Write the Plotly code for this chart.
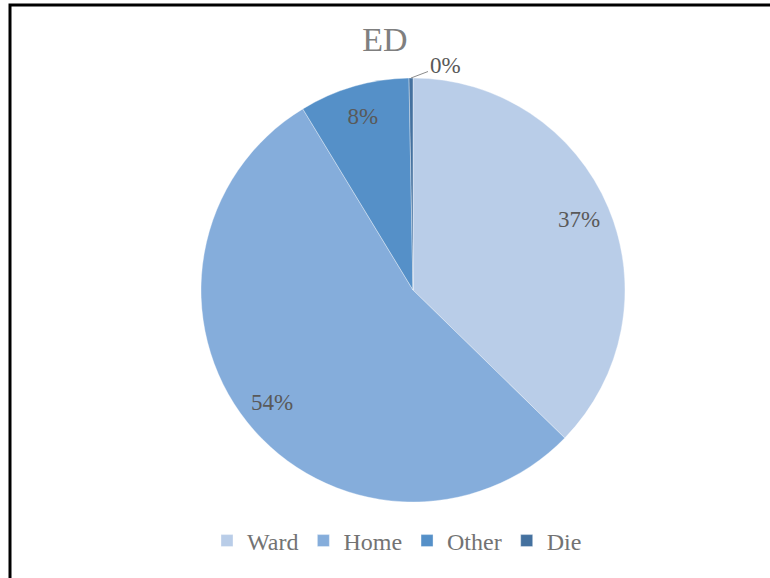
import math
import plotly.graph_objects as go

# Data
categories = ["Ward", "Home", "Other", "Die"]
values = [37.3, 54.0, 8.4, 0.3]
colors = ["#B9CDE8", "#85ADDB", "#5590C8", "#44719F"]

W, H = 770, 578
cx, cy, R = 413, 290, 212  # pie centre / radius in pixels (layout)

dom_x = [(cx - R) / W, (cx + R) / W]
dom_y = [(H - cy - R) / H, (H - cy + R) / H]

SERIF = "Liberation Serif, Times New Roman, serif"
LABEL_COLOR = "#595959"

fig = go.Figure()

# main pie (colours, legend)
fig.add_trace(go.Pie(
    labels=categories,
    values=values,
    sort=False,
    direction="clockwise",
    rotation=0,
    domain=dict(x=dom_x, y=dom_y),
    marker=dict(colors=colors, line=dict(color="rgba(255,255,255,0.6)", width=0.6)),
    textinfo="none",
    hoverinfo="label+percent",
    showlegend=True,
))

# transparent ring to place inside labels near the rim
fig.add_trace(go.Pie(
    labels=categories,
    values=values,
    sort=False,
    direction="clockwise",
    rotation=0,
    hole=0.7,
    domain=dict(x=dom_x, y=dom_y),
    marker=dict(colors=["rgba(0,0,0,0)"] * len(values), line=dict(width=0)),
    texttemplate="%{percent:.0%}",
    textposition=["inside", "inside", "inside", "none"],
    insidetextorientation="horizontal",
    insidetextfont=dict(family=SERIF, size=23, color=LABEL_COLOR),
    hoverinfo="skip",
    showlegend=False,
))

# leader-line label for the tiny last slice, anchored at its rim mid-angle
total = sum(values)
start = sum(values[:-1]) / total * 360
mid = math.radians(start + values[-1] / total * 360 / 2)
rim_x = (cx + R * math.sin(mid)) / W
rim_y = (H - cy + R * math.cos(mid)) / H
pct = round(values[-1] / total * 100)

fig.add_annotation(
    x=rim_x, y=rim_y, xref="paper", yref="paper",
    text=f"{pct}%",
    showarrow=True, arrowhead=0, arrowwidth=1, arrowcolor="#8C8C8C",
    ax=34, ay=-13, standoff=0,
    font=dict(family=SERIF, size=23, color=LABEL_COLOR),
)

fig.update_layout(
    width=W,
    height=H,
    margin=dict(l=0, r=0, t=0, b=0),
    paper_bgcolor="white",
    plot_bgcolor="white",
    title=dict(
        text="ED",
        x=0.5, xanchor="center",
        y=1 - 39 / H, yanchor="middle",
        font=dict(family=SERIF, size=34, color="#7F7F7F"),
    ),
    legend=dict(
        orientation="h",
        x=397 / W, xanchor="center",
        y=(H - 541) / H, yanchor="middle",
        font=dict(family=SERIF, size=24, color="#737373"),
        traceorder="normal",
        itemclick=False,
    ),
    shapes=[
        dict(type="rect", xref="paper", yref="paper",
             x0=10 / W, x1=1.05, y0=-0.05, y1=1 - 5 / H,
             line=dict(color="black", width=3), fillcolor="rgba(0,0,0,0)",
             layer="below"),
    ],
)

fig.write_html(
    "out.html",
    config={"displayModeBar": False},
    post_script="document.body.style.margin='0';document.body.style.overflow='hidden';",
)
